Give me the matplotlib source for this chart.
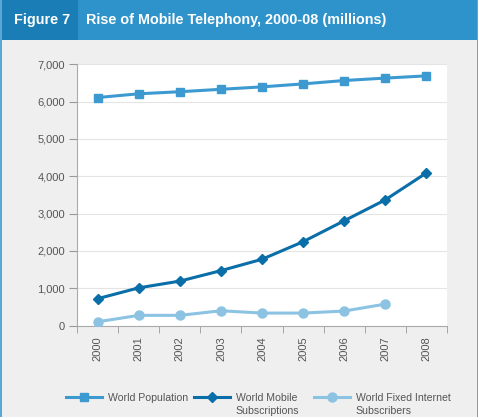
import matplotlib.pyplot as plt
from matplotlib.patches import Rectangle
from matplotlib.ticker import FuncFormatter, FixedLocator

years = ["2000", "2001", "2002", "2003", "2004", "2005", "2006", "2007", "2008"]
population = [6110, 6210, 6265, 6330, 6395, 6475, 6565, 6630, 6690]
mobile = [720, 1010, 1190, 1470, 1775, 2245, 2805, 3365, 4085]
internet = [100, 272, 272, 395, 333, 333, 387, 573]

c_pop = "#3d9ad1"
c_mob = "#0a6ea8"
c_net = "#8cc3e3"

plt.rcParams['font.family'] = ['Liberation Sans', 'DejaVu Sans']

W, H = 481, 417
fig = plt.figure(figsize=(W / 100, H / 100), dpi=100)
fig.patch.set_facecolor("#efefef")

# header band + borders
def box(x, y, w, h, c):
    fig.patches.append(Rectangle((x / W, 1 - (y + h) / H), w / W, h / H,
                                 transform=fig.transFigure, facecolor=c,
                                 edgecolor="none", zorder=0))

box(0, 0, W, 40, "#2e93cb")
box(0, 0, 78, 40, "#1a7db5")
box(0, 0, 2, H, "#5aa8d6")
box(478, 0, 3, H, "#ffffff")
box(477, 0, 1.5, H, "#5aa8d6")

fig.text(14 / W, 1 - 20 / H, "Figure 7", color="white", fontsize=10.4,
         fontweight="bold", va="center")
fig.text(86 / W, 1 - 20 / H, "Rise of Mobile Telephony, 2000-08 (millions)",
         color="white", fontsize=10.4, fontweight="bold", va="center")

ax = fig.add_axes([77.3 / W, 1 - 325.5 / H, 369.4 / W, 261.2 / H])
ax.set_facecolor("white")

x = list(range(len(years)))
l1, = ax.plot(x, population, color=c_pop, marker="s", markersize=5.5,
              linewidth=2.2, zorder=3)
l2, = ax.plot(x, mobile, color=c_mob, marker="D", markersize=5.5,
              linewidth=2.2, zorder=3)
l3, = ax.plot(x[:len(internet)], internet, color=c_net, marker="o",
              markersize=6.5, linewidth=2.2, zorder=3)

ax.set_xlim(-0.5, 8.5)
ax.set_ylim(0, 7000)
ax.set_yticks(range(0, 7001, 1000))
ax.yaxis.set_major_formatter(FuncFormatter(lambda v, p: f"{int(v):,}"))
ax.grid(axis="y", color="#e4e4e4", linewidth=0.8)
ax.set_axisbelow(True)

ax.set_xticks(x)
ax.set_xticklabels(years, rotation=90)
ax.xaxis.set_minor_locator(FixedLocator([i + 0.5 for i in range(-1, 9)]))
ax.tick_params(axis="x", which="major", length=0, pad=8)
ax.tick_params(axis="x", which="minor", length=5, color="#999999", direction="out")
ax.tick_params(axis="y", length=6, color="#999999", pad=3)
ax.tick_params(labelsize=8, labelcolor="#555555")

for s in ["top", "right"]:
    ax.spines[s].set_visible(False)
for s in ["left", "bottom"]:
    ax.spines[s].set_color("#aaaaaa")

# legend: one entry each, second line of label as plain text
entries = [
    (l1, "World Population", None, 66),
    (l2, "World Mobile", "Subscriptions", 194),
    (l3, "World Fixed Internet", "Subscribers", 314),
]
for handle, first, second, x0 in entries:
    fig.legend([handle], [first], loc="center left",
               bbox_to_anchor=(x0 / W, 1 - 398 / H), frameon=False,
               fontsize=7.6, labelcolor="#555555", handlelength=3.4,
               handletextpad=0.55, borderpad=0, borderaxespad=0)
    if second:
        tx = x0 + 3.4 * 7.6 * 100 / 72 + 0.55 * 7.6 * 100 / 72
        fig.text(tx / W, 1 - 411 / H, second, fontsize=7.6, color="#555555",
                 va="center")

fig.savefig("out.png", dpi=100, facecolor=fig.get_facecolor())
